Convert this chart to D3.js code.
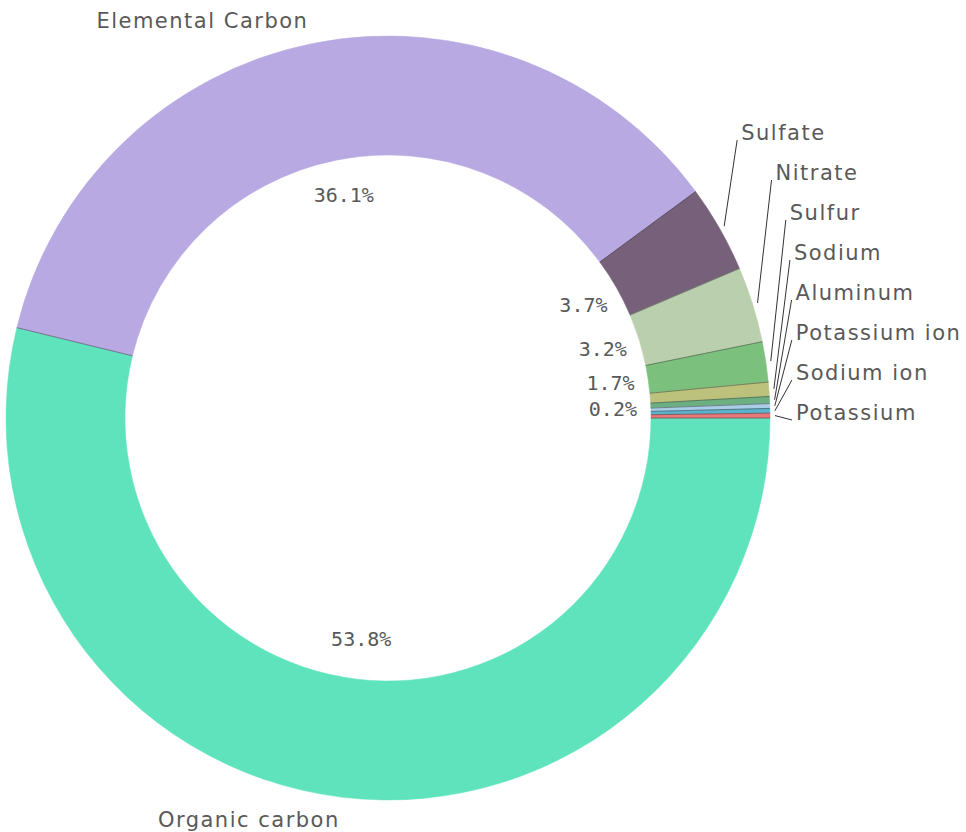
<!DOCTYPE html>
<html>
<head>
<meta charset="utf-8">
<script src="https://cdn.jsdelivr.net/npm/d3@7"></script>
<style>
  body { margin: 0; background: #fff; }
  svg { display: block; }
  .lbl { font-family: "DejaVu Sans", sans-serif; font-size: 21px; fill: #595959; letter-spacing: 1.5px; }
  .pct { font-family: "DejaVu Sans Mono", monospace; font-size: 20px; fill: #595959; }
  .leader { stroke: #333; stroke-width: 1; fill: none; }
  .sep { stroke: rgba(40,40,40,0.45); stroke-width: 1; }
</style>
</head>
<body>
<svg id="chart" width="966" height="832"></svg>
<script>
// data
var names  = ["Organic carbon", "Elemental Carbon", "Sulfate", "Nitrate", "Sulfur",
              "Sodium", "Aluminum", "Potassium ion", "Sodium ion", "Potassium"];
var values = [53.8, 36.1, 3.7, 3.2, 1.7, 0.6, 0.3, 0.2, 0.2, 0.2];
var colors = ["#5ee3bd", "#b8a9e3", "#77617a", "#bacfad", "#7cc07d",
              "#bcc27c", "#6cb081", "#a9cde6", "#5ab2cc", "#e8787a"];
// which slices get a % label inside the hole
var pctShown = ["Organic carbon", "Elemental Carbon", "Sulfate", "Nitrate", "Sulfur", "Potassium ion"];

var cx = 388, cy = 418;
var rOuter = 382, rInner = 263;

var svg = d3.select("#chart");
var g = svg.append("g").attr("transform", "translate(" + cx + "," + cy + ")");

var rows = names.map(function(n, i){
	return {name: n, value: values[i], color: colors[i]};
});

// start at 3 o'clock, go clockwise
var pie = d3.pie()
	.sort(null)
	.value(function(d){ return d.value; })
	.startAngle(Math.PI / 2)
	.endAngle(Math.PI / 2 + 2 * Math.PI);

var arcs = pie(rows);

var arc = d3.arc().innerRadius(rInner).outerRadius(rOuter);

g.selectAll(".slice")
	.data(arcs)
	.enter()
	.append("path")
	.attr("class", "slice")
	.attr("d", arc)
	.attr("fill", function(d){ return d.data.color; })
	.attr("stroke", function(d){ return d.data.color; })
	.attr("stroke-width", 0.5);

function midAngle(d){ return (d.startAngle + d.endAngle) / 2; }
function polar(a, r){ return [r * Math.sin(a), -r * Math.cos(a)]; }

// thin dark separators between slices
g.selectAll(".sep")
	.data(arcs)
	.enter()
	.append("line")
	.attr("class", "sep")
	.attr("x1", function(d){ return polar(d.startAngle, rInner)[0]; })
	.attr("y1", function(d){ return polar(d.startAngle, rInner)[1]; })
	.attr("x2", function(d){ return polar(d.startAngle, rOuter)[0]; })
	.attr("y2", function(d){ return polar(d.startAngle, rOuter)[1]; });

// percent labels inside the hole
var pctFmt = d3.format(".1f");
g.selectAll(".pct")
	.data(arcs.filter(function(d){ return pctShown.indexOf(d.data.name) >= 0; }))
	.enter()
	.append("text")
	.attr("class", "pct")
	.attr("text-anchor", "middle")
	.attr("dominant-baseline", "central")
	.attr("x", function(d){ return polar(midAngle(d), 225)[0]; })
	.attr("y", function(d){ return polar(midAngle(d), 225)[1] - 2; })
	.text(function(d){ return pctFmt(d.data.value) + "%"; });

// big slices: label just outside, anchored at mid angle
var big = arcs.filter(function(d){ return d.data.value > 10; });
g.selectAll(".biglbl")
	.data(big)
	.enter()
	.append("text")
	.attr("class", "lbl")
	.attr("text-anchor", "end")
	.attr("dominant-baseline", "central")
	.attr("x", function(d){ return polar(midAngle(d), 405)[0]; })
	.attr("y", function(d){ return polar(midAngle(d), 405)[1]; })
	.text(function(d){ return d.data.name; });

// small slices: stacked labels with leader lines
var small = arcs.filter(function(d){ return d.data.value <= 10; });
var firstY = 133 - cy, stepY = 40;
var smallLbls = small.map(function(d, i){
	var s = polar(midAngle(d), rOuter + 5);
	var lx = s[0] + 17 + Math.min(i, 4) * 1;
	var ly = firstY + i * stepY;
	return {d: d, sx: s[0], sy: s[1], lx: lx, ly: ly};
});

g.selectAll(".leader")
	.data(smallLbls)
	.enter()
	.append("path")
	.attr("class", "leader")
	.attr("d", function(p){
		return "M" + p.sx + "," + p.sy + " L " + (p.lx - 4) + "," + (p.ly + 7);
	});

g.selectAll(".smlbl")
	.data(smallLbls)
	.enter()
	.append("text")
	.attr("class", "lbl")
	.attr("dominant-baseline", "central")
	.attr("x", function(p){ return p.lx; })
	.attr("y", function(p){ return p.ly; })
	.text(function(p){ return p.d.data.name; });
</script>
</body>
</html>
